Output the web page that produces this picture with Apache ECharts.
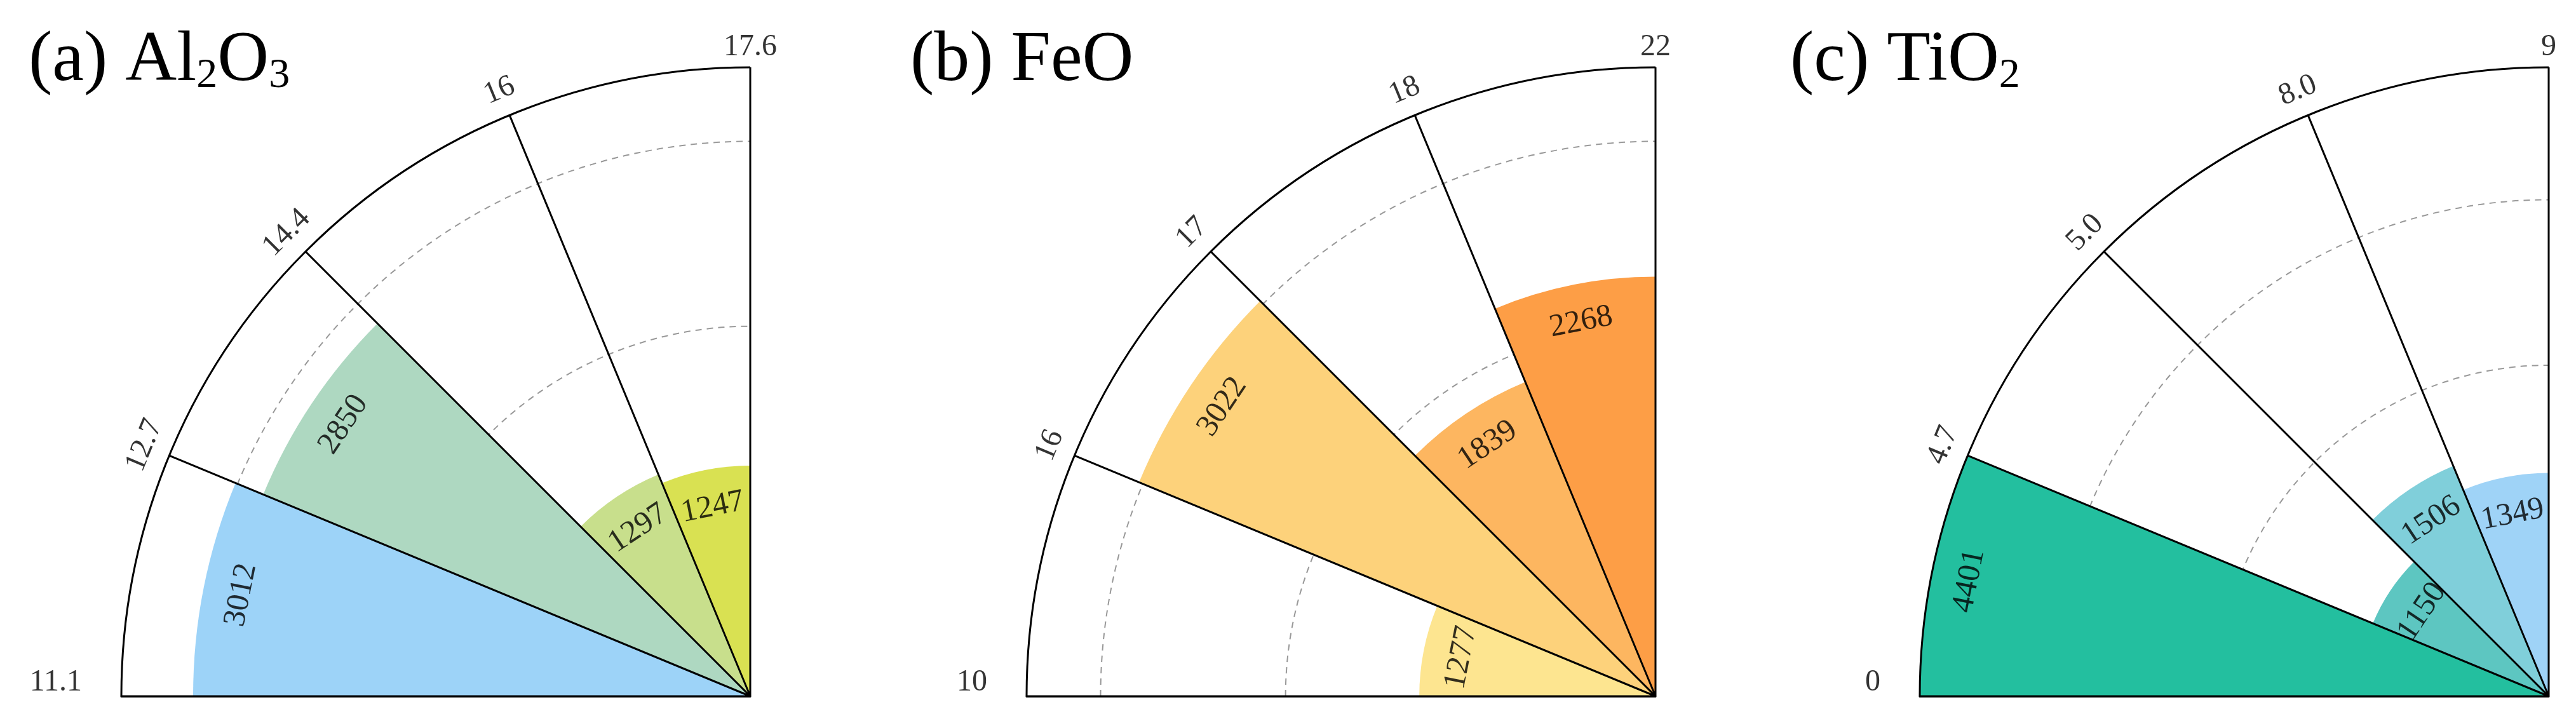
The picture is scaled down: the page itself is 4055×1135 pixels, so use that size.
<!DOCTYPE html>
<html>
<head>
<meta charset="utf-8">
<script src="https://cdn.jsdelivr.net/npm/echarts@6/dist/echarts.min.js"></script>
<style>
html,body{margin:0;padding:0;background:#fff;}
#chart{width:4055px;height:1135px;}
</style>
</head>
<body>
<div id="chart"></div>
<script>
// data
var titles = ['{n|(a) Al}{s|2}{n|O}{s|3}', '{n|(b) FeO}', '{n|(c) TiO}{s|2}'];
var tickLabelsA = ['11.1', '12.7', '14.4', '16', '17.6'];
var tickLabelsB = ['10', '16', '17', '18', '22'];
var tickLabelsC = ['0', '4.7', '5.0', '8.0', '9'];
var valuesA = [3012, 2850, 1297, 1247];
var valuesB = [1277, 3022, 1839, 2268];
var valuesC = [4401, 1150, 1506, 1349];
var colorsA = ['#9dd3f8', '#aed8c1', '#c8df8c', '#d9e152'];
var colorsB = ['#fde590', '#fdd27b', '#fdb660', '#fd9e46'];
var colorsC = ['#23bf9f', '#5dc6c1', '#80cfda', '#9fd3f7'];
var radiusMax = [3400, 3400, 3800];

var tickLabels = [tickLabelsA, tickLabelsB, tickLabelsC];
var values = [valuesA, valuesB, valuesC];
var colors = [colorsA, colorsB, colorsC];

var centersX = [1181, 2606, 4012];
var centerY = 1096;
var R = 990;
var titleX = [40, 1428, 2813];
var FONT = '"Liberation Serif", "Times New Roman", serif';

var myChart = echarts.init(document.getElementById('chart'));

var polar = [], angleAxis = [], radiusAxis = [], series = [], title = [];

for (var p = 0; p < 3; p++) {
	title.push({
		text: titles[p],
		left: titleX[p],
		top: 36,
		textStyle: {
			rich: {
				n: {fontFamily: FONT, fontSize: 112, fontWeight: 'normal', color: '#000', verticalAlign: 'bottom'},
				s: {fontFamily: FONT, fontSize: 66, fontWeight: 'normal', color: '#000', verticalAlign: 'bottom'}
			}
		}
	});

	// polar 3p : bars, polar 3p+1 : lines, polar 3p+2 : tick labels
	var cats = [0, 1, 2, 3];
	polar.push({center: [centersX[p], centerY], radius: R});
	polar.push({center: [centersX[p], centerY], radius: R});
	polar.push({center: [centersX[p], centerY], radius: R + 42});

	angleAxis.push({
		polarIndex: 3 * p, type: 'category', data: cats,
		startAngle: 180, endAngle: 90, clockwise: true, boundaryGap: true,
		axisLine: {show: false}, axisTick: {show: false}, axisLabel: {show: false}, splitLine: {show: false}
	});
	radiusAxis.push({
		polarIndex: 3 * p, type: 'value', min: 0, max: radiusMax[p], interval: 1000,
		axisLine: {show: false}, axisTick: {show: false}, axisLabel: {show: false},
		splitLine: {show: true, lineStyle: {color: '#999', type: [10, 8], width: 2}}
	});

	angleAxis.push({
		polarIndex: 3 * p + 1, type: 'value', min: 0, max: 4, interval: 1, z: 5,
		startAngle: 180, endAngle: 90, clockwise: true,
		axisLine: {show: true, lineStyle: {color: '#000', width: 3}},
		axisTick: {show: false}, axisLabel: {show: false},
		splitLine: {show: true, lineStyle: {color: '#000', width: 3}}
	});
	radiusAxis.push({
		polarIndex: 3 * p + 1, type: 'value', min: 0, max: 1, z: 5,
		axisLine: {show: true, lineStyle: {color: '#000', width: 3}},
		axisTick: {show: false}, axisLabel: {show: false}, splitLine: {show: false}
	});

	angleAxis.push({
		polarIndex: 3 * p + 2, type: 'value', min: 0, max: 4, interval: 1,
		startAngle: 180, endAngle: 90, clockwise: true,
		axisLine: {show: false}, axisTick: {show: false}, axisLabel: {show: false}, splitLine: {show: false}
	});
	radiusAxis.push({
		polarIndex: 3 * p + 2, type: 'value', min: 0, max: 1,
		axisLine: {show: false}, axisTick: {show: false}, axisLabel: {show: false}, splitLine: {show: false}
	});

	var barData = [], valueLabels = [];
	for (var i = 0; i < 4; i++) {
		var v = Math.min(values[p][i], radiusMax[p]);
		barData.push({value: v, itemStyle: {color: colors[p][i]}});
		valueLabels.push({
			value: [v, i],
			label: {formatter: String(values[p][i]), rotate: 90 - 22.5 * (i + 0.5)}
		});
	}
	series.push({
		type: 'bar', coordinateSystem: 'polar', polarIndex: 3 * p,
		data: barData, barWidth: '100%', barCategoryGap: '0%', z: 2
	});
	// value labels, turned along the arc, just inside the end of each bar
	series.push({
		type: 'scatter', coordinateSystem: 'polar', polarIndex: 3 * p,
		symbolSize: 0, data: valueLabels, silent: true, z: 6,
		label: {show: true, position: 'inside', offset: [0, 60], color: '#000', fontFamily: FONT, fontSize: 50}
	});

	var tickData = [];
	for (var j = 0; j < 5; j++) {
		var item = {value: [1, j], label: {formatter: tickLabels[p][j], rotate: 90 - 22.5 * j}};
		if (j == 0) item.label = {formatter: tickLabels[p][j], rotate: 0, offset: [-20, -22], align: 'right'};
		if (j == 4) item.label = {formatter: tickLabels[p][j], rotate: 0, offset: [0, 10]};
		tickData.push(item);
	}
	series.push({
		type: 'scatter', coordinateSystem: 'polar', polarIndex: 3 * p + 2,
		symbolSize: 0, data: tickData, silent: true,
		label: {show: true, position: 'inside', color: '#000', fontFamily: FONT, fontSize: 48}
	});
}

var option = {
	backgroundColor: '#fff',
	animation: false,
	title: title,
	polar: polar,
	angleAxis: angleAxis,
	radiusAxis: radiusAxis,
	series: series
};
myChart.setOption(option);
</script>
</body>
</html>
